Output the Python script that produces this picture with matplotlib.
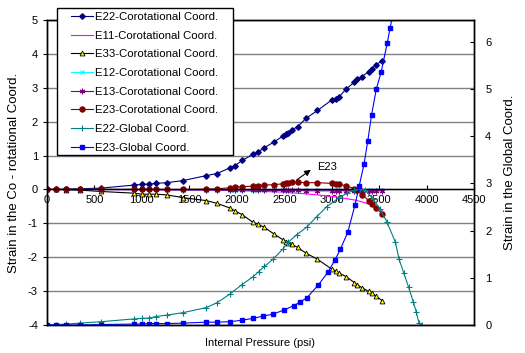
import matplotlib
matplotlib.use("Agg")
import matplotlib.pyplot as plt
from matplotlib.patches import Rectangle

plt.rc('font', family='Liberation Sans', size=8)
plt.rcParams['axes.unicode_minus'] = False

# pressure steps (psi) for the co-rotational strains
p_co = [0, 100, 200, 350, 570, 920, 1000, 1080, 1150, 1260,
        1430, 1680, 1790, 1930, 1980, 2060, 2170, 2220, 2290, 2390,
        2490, 2520, 2540, 2580, 2640, 2730, 2850, 3000, 3040, 3080,
        3150, 3240, 3270, 3320, 3390, 3420, 3470, 3530]

e22_co = [0, 0.0, 0.01, 0.02, 0.04, 0.13, 0.15, 0.16, 0.18, 0.20,
          0.26, 0.41, 0.47, 0.64, 0.70, 0.86, 1.04, 1.10, 1.23, 1.40,
          1.58, 1.63, 1.68, 1.76, 1.85, 2.10, 2.33, 2.64, 2.68, 2.74,
          2.96, 3.17, 3.25, 3.33, 3.48, 3.56, 3.68, 3.80]
e11_co = [0, 0, 0, 0, 0, -0.01, -0.01, -0.01, -0.01, -0.01,
          -0.02, -0.02, -0.03, -0.03, -0.04, -0.04, -0.05, -0.05, -0.06, -0.07,
          -0.08, -0.09, -0.09, -0.10, -0.11, -0.13, -0.16, -0.21, -0.22, -0.24,
          -0.27, -0.31, -0.33, -0.37, -0.43, -0.46, -0.53, -0.62]
e33_co = [0, 0, -0.01, -0.02, -0.06, -0.11, -0.14, -0.14, -0.14, -0.16,
          -0.24, -0.33, -0.41, -0.55, -0.63, -0.75, -0.97, -1.02, -1.12, -1.31,
          -1.49, -1.54, -1.57, -1.62, -1.71, -1.88, -2.06, -2.35, -2.40, -2.47,
          -2.57, -2.75, -2.82, -2.90, -3.01, -3.06, -3.15, -3.28]
e12_co = [0, 0, 0, 0, 0, 0, 0, 0, 0, 0,
          -0.01, -0.01, -0.01, -0.01, -0.01, -0.01, -0.01, -0.01, -0.01, -0.02,
          -0.02, -0.02, -0.02, -0.02, -0.02, -0.02, -0.02, -0.03, -0.03, -0.03,
          -0.03, -0.03, -0.03, -0.02, -0.02, -0.02, -0.02, -0.02]
e13_co = [0, 0, 0, 0, 0, 0, 0, 0, 0, -0.01,
          -0.01, -0.01, -0.01, -0.02, -0.02, -0.02, -0.02, -0.02, -0.03, -0.03,
          -0.03, -0.03, -0.03, -0.03, -0.03, -0.04, -0.04, -0.04, -0.04, -0.04,
          -0.04, -0.04, -0.04, -0.04, -0.04, -0.04, -0.04, -0.04]
e23_co = [0, 0, 0, 0, 0, 0, 0, 0, 0, 0,
          0, 0.01, 0.02, 0.05, 0.07, 0.08, 0.10, 0.11, 0.13, 0.14,
          0.17, 0.19, 0.20, 0.21, 0.21, 0.20, 0.20, 0.18, 0.17, 0.15,
          0.11, 0.02, -0.03, -0.15, -0.33, -0.42, -0.55, -0.72]

# global coordinate strains (secondary axis)
p_g22 = [0, 100, 200, 350, 570, 920, 1000, 1080, 1150, 1260,
         1430, 1680, 1790, 1930, 2050, 2170, 2230, 2290, 2380, 2490,
         2540, 2630, 2740, 2840, 2950, 3080, 3160, 3240, 3300, 3350,
         3440, 3510, 3580, 3670, 3710, 3760, 3810, 3860, 3890, 3920, 3950]
e22_gl = [0, 0.01, 0.02, 0.04, 0.07, 0.13, 0.14, 0.15, 0.18, 0.21,
          0.26, 0.37, 0.47, 0.66, 0.85, 1.02, 1.13, 1.24, 1.39, 1.62,
          1.75, 1.91, 2.08, 2.29, 2.51, 2.70, 2.79, 2.86, 2.88, 2.86,
          2.66, 2.45, 2.19, 1.76, 1.39, 1.10, 0.80, 0.49, 0.28, 0.04, 0.0]

p_g23 = [0, 100, 200, 350, 570, 920, 1000, 1080, 1150, 1260,
         1430, 1680, 1790, 1930, 2050, 2170, 2280, 2380, 2500, 2600,
         2670, 2740, 2860, 2960, 3035, 3090, 3170, 3245, 3290, 3340,
         3380, 3420, 3470, 3520, 3585, 3615, 3635]
e23_gl = [0, 0, 0, 0, 0.01, 0.02, 0.02, 0.03, 0.03, 0.03,
          0.04, 0.06, 0.06, 0.07, 0.10, 0.14, 0.19, 0.23, 0.32, 0.41,
          0.49, 0.58, 0.85, 1.12, 1.38, 1.60, 1.97, 2.54, 2.95, 3.40,
          3.90, 4.45, 5.0, 5.35, 5.97, 6.29, 6.5]

fig = plt.figure(figsize=(5.25, 3.53), dpi=100)
ax = fig.add_axes([0.0895, 0.0793, 0.8135, 0.864])
ax2 = ax.twinx()

lw = 0.8
h = []
h += ax.plot(p_co, e22_co, color='#000080', lw=lw, marker='D', ms=2.8,
             label='E22-Corotational Coord.')
h += ax.plot(p_co, e11_co, color='#FF00FF', lw=lw,
             label='E11-Corotational Coord.')
h += ax.plot(p_co, e33_co, color='black', lw=lw, marker='^', ms=3.5,
             mfc='#FFFF00', mec='black', mew=0.6,
             label='E33-Corotational Coord.')
h += ax.plot(p_co, e12_co, color='#00FFFF', lw=lw, marker='x', ms=3.5,
             mew=0.8, label='E12-Corotational Coord.')
h += ax.plot(p_co, e13_co, color='#800080', lw=lw, marker=(6, 2, 0), ms=4,
             mew=0.8, label='E13-Corotational Coord.')
h += ax.plot(p_co, e23_co, color='#800000', lw=lw, marker='o', ms=3.6,
             label='E23-Corotational Coord.')
h += ax2.plot(p_g22, e22_gl, color='#008080', lw=lw, marker='+', ms=5,
              mew=0.8, label='E22-Global Coord.')
h += ax2.plot(p_g23, e23_gl, color='#0000FF', lw=lw, marker='s', ms=2.2,
              label='E23-Global Coord.')

ax.set_xlim(0, 4500)
ax.set_ylim(-4, 5)
ax2.set_ylim(0, 6.46)
ax.set_yticks(range(-4, 6))
ax2.set_yticks(range(0, 7))
ax.set_xticks(range(0, 5000, 500))

# horizontal grid, x axis drawn through zero
for y in range(-4, 6):
    ax.axhline(y, color='#808080', lw=1, zorder=0)
ax.spines['bottom'].set_position(('data', 0))
ax.axhline(-4, color='black', lw=1, clip_on=False, zorder=3)
for s in ['left', 'right', 'top', 'bottom']:
    ax.spines[s].set_linewidth(1)
    ax2.spines[s].set_linewidth(1)
ax.tick_params(axis='x', direction='in', length=3, pad=4)
ax.tick_params(axis='y', direction='out', length=3)
ax2.tick_params(axis='y', direction='in', length=3, pad=8)

ax.set_ylabel('Strain in the Co - rotational Coord.', fontsize=9.5,
              labelpad=6)
ax2.set_ylabel('Strain in the Global Coord.', fontsize=9.5, labelpad=9)
fig.text(0.496, 0.028, 'Internal Pressure (psi)', ha='center', va='center')

ax.text(2850, 0.67, 'E23', ha='left', va='center')
ax.annotate('', xy=(2780, 0.58), xytext=(2630, 0.28),
            arrowprops=dict(arrowstyle='-|>', color='black', lw=0.8,
                            shrinkA=0, shrinkB=0, mutation_scale=9))

# legend box sits across the top edge of the plot
box = Rectangle((57 / 525, 1 - 155 / 353), 176 / 525, 147 / 353,
                transform=fig.transFigure, facecolor='white',
                edgecolor='black', lw=1, zorder=4)
fig.add_artist(box)
leg = fig.legend(handles=h, loc='upper left',
                 bbox_to_anchor=(71 / 525, 1 - 12 / 353),
                 bbox_transform=fig.transFigure, frameon=False,
                 fontsize=8.2, handlelength=1.9, labelspacing=0.76,
                 borderpad=0, borderaxespad=0, handletextpad=0.25)
leg.set_zorder(5)

fig.savefig('out.png', dpi=100)
